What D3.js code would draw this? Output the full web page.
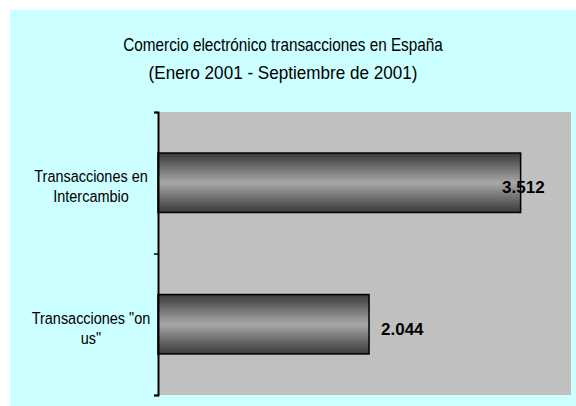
<!DOCTYPE html>
<html><head><meta charset="utf-8">
<script src="https://cdn.jsdelivr.net/npm/d3@7"></script>
<style>html,body{margin:0;padding:0;background:#fff;}svg{display:block;}</style>
</head><body>
<script>
const categories = [["Transacciones en", "Intercambio"], ["Transacciones \"on", "us\""]];
const values = [3512, 2044];
const valueLabels = ["3.512", "2.044"];
const titleLines = ["Comercio electrónico transacciones en España", "(Enero 2001 - Septiembre de 2001)"];

const W = 576, H = 406;
const svg = d3.select("body").append("svg").attr("width", W).attr("height", H);
const font = "'Liberation Sans', Arial, sans-serif";

svg.append("rect").attr("x", 10).attr("y", 10).attr("width", W - 10).attr("height", H - 10).attr("fill", "#CCFFFF");

const plot = {left: 158, top: 112, right: 571, bottom: 395};
svg.append("rect").attr("x", plot.left).attr("y", plot.top)
  .attr("width", plot.right - plot.left).attr("height", plot.bottom - plot.top).attr("fill", "#C0C0C0");

const x = d3.scaleLinear().domain([0, 4000]).range([plot.left, plot.right]);
const y = d3.scaleBand().domain(d3.range(categories.length)).range([plot.top, plot.bottom]).paddingInner(0.58).paddingOuter(0.29);

const defs = svg.append("defs");
const grad = defs.append("linearGradient").attr("id", "cyl").attr("x1", 0).attr("y1", 0).attr("x2", 0).attr("y2", 1);
[[0, "#3a3a3a"], [0.15, "#5a5a5a"], [0.5, "#a8a8a8"], [0.85, "#5a5a5a"], [1, "#3a3a3a"]]
  .forEach(([o, c]) => grad.append("stop").attr("offset", o).attr("stop-color", c));

svg.selectAll("rect.bar").data(values).join("rect").attr("class", "bar")
  .attr("x", x(0)).attr("y", (d, i) => y(i))
  .attr("width", d => x(d) - x(0)).attr("height", y.bandwidth())
  .attr("fill", "url(#cyl)").attr("stroke", "#000").attr("stroke-width", 1.5);

// axis
const yAxisScale = d3.scaleLinear().domain([0, categories.length]).range([plot.top, plot.bottom]);
const axis = svg.append("g").attr("transform", `translate(${plot.left},0)`)
  .call(d3.axisLeft(yAxisScale).ticks(categories.length).tickFormat("").tickSizeInner(4).tickSizeOuter(4));
axis.select(".domain").attr("stroke", "#000").attr("stroke-width", 2);
axis.selectAll(".tick line").attr("stroke", "#000").attr("stroke-width", 1.5);

// category labels (narrow, tall glyphs)
categories.forEach((lines, i) => {
  const cy = y(i) + y.bandwidth() / 2;
  lines.forEach((l, j) => {
    svg.append("text")
      .attr("transform", `translate(91,${cy - 0.5 + j * 20}) scale(0.85,1)`)
      .attr("text-anchor", "middle")
      .attr("font-family", font).attr("font-size", 17).attr("fill", "#000").text(l);
  });
});

// value labels
values.forEach((v, i) => {
  const cy = y(i) + y.bandwidth() / 2;
  const t = svg.append("text").attr("font-family", font).attr("font-size", 17).attr("font-weight", "bold")
    .attr("y", cy + 10.5).text(valueLabels[i]);
  const w = t.node().getComputedTextLength();
  let sx = x(v) + 12;
  if (sx + w > plot.right - 25) sx = x(v) - 18.5;
  t.attr("x", sx);
});

// title
const titleScale = [0.85, 0.95];
titleLines.forEach((l, j) => {
  svg.append("text")
    .attr("transform", `translate(283,${51 + j * 27.5}) scale(${titleScale[j]},1)`)
    .attr("text-anchor", "middle")
    .attr("font-family", font).attr("font-size", 18).attr("fill", "#000").text(l);
});
</script>
</body></html>
